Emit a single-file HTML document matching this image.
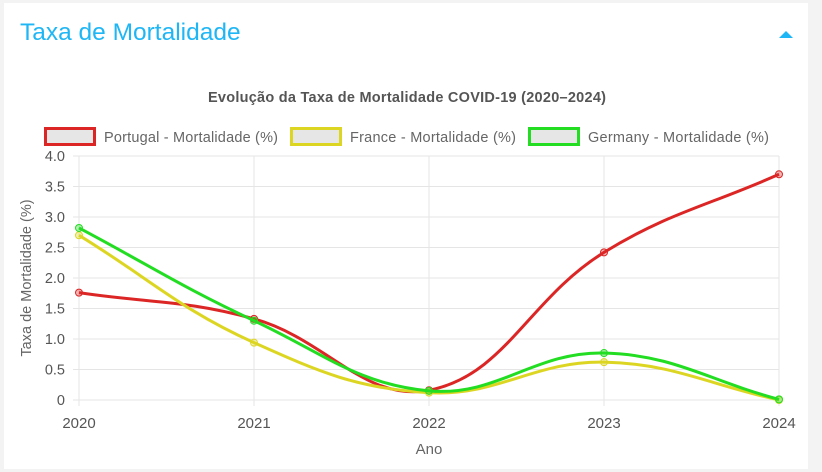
<!DOCTYPE html>
<html><head><meta charset="utf-8"><style>
body{margin:0;width:822px;height:472px;background:#f3f3f3;font-family:"Liberation Sans",sans-serif;overflow:hidden;position:relative}
.card{position:absolute;left:4px;top:3px;width:804px;height:466px;background:#fff}
.h{position:absolute;left:20px;top:19px;font-size:24.5px;color:#1fb6f5}
.tri{position:absolute;left:779px;top:31px;width:0;height:0;border-left:7px solid transparent;border-right:7px solid transparent;border-bottom:7px solid #1fb6f5}
svg{position:absolute;left:0;top:0}
</style></head><body>
<div class="card"></div>
<div class="h">Taxa de Mortalidade</div>
<div class="tri"></div>
<svg id="c" width="822" height="472" font-family="Liberation Sans, sans-serif"></svg>
<script>
const years=["2020","2021","2022","2023","2024"];
const portugal=[1.76,1.33,0.16,2.42,3.70];
const france=[2.70,0.94,0.12,0.62,0.00];
const germany=[2.82,1.30,0.15,0.77,0.01];
const yTicks=[0,0.5,1.0,1.5,2.0,2.5,3.0,3.5,4.0];
const series=[{name:"Portugal - Mortalidade (%)",data:portugal,color:"#dc2626",lx:44,tl:174},{name:"France - Mortalidade (%)",data:france,color:"#dcd623",lx:290,tl:166},{name:"Germany - Mortalidade (%)",data:germany,color:"#22dd22",lx:528,tl:181}];
const svg=document.getElementById('c');const NS="http://www.w3.org/2000/svg";
const L=79,R=779,T=156,B=400;
const x=i=>L+(R-L)*i/(years.length-1);
const y=v=>B-(B-T)*v/4;
function el(t,a,p){const e=document.createElementNS(NS,t);for(const k in a)e.setAttribute(k,a[k]);(p||svg).appendChild(e);return e;}
const title=el('text',{x:407,y:102,'text-anchor':'middle','font-size':14.5,'font-weight':'bold',fill:'#555',textLength:398});title.textContent="Evolução da Taxa de Mortalidade COVID-19 (2020–2024)";


yTicks.forEach(v=>{const g=el('line',{x1:L-6,x2:R,y1:y(v),y2:y(v),stroke:'#e5e5e5'});


const t=el('text',{x:L-14,y:y(v)+5,'text-anchor':'end','font-size':14.5,fill:'#555'});t.textContent=v===0?"0":v.toFixed(1);

});
years.forEach((yr,i)=>{const g=el('line',{x1:x(i),x2:x(i),y1:T,y2:B+6,stroke:'#e5e5e5'});


const t=el('text',{x:x(i),y:B+28,'text-anchor':'middle','font-size':15,fill:'#555'});t.textContent=yr;

});
const xt=el('text',{x:429,y:454,'text-anchor':'middle','font-size':15,fill:'#666'});xt.textContent="Ano";


const yt=el('text',{x:0,y:0,'text-anchor':'middle','font-size':14.5,fill:'#666',transform:'translate(31,278) rotate(-90)'});yt.textContent="Taxa de Mortalidade (%)";


function path(pts){const t=0.4;let d=`M${pts[0][0]},${pts[0][1]}`;
const cps=pts.map((p,i)=>{const pr=pts[i-1]||p,nx=pts[i+1]||p;
const d01=Math.hypot(p[0]-pr[0],p[1]-pr[1]),d12=Math.hypot(nx[0]-p[0],nx[1]-p[1]);
let fa=d01/(d01+d12)||0,fb=d12/(d01+d12)||0;fa*=t;fb*=t;
return {p:[p[0]-fa*(nx[0]-pr[0]),p[1]-fa*(nx[1]-pr[1])],n:[p[0]+fb*(nx[0]-pr[0]),p[1]+fb*(nx[1]-pr[1])]};});
for(let i=1;i<pts.length;i++){const a=cps[i-1].n,b=cps[i].p;d+=` C${a[0]},${a[1]} ${b[0]},${b[1]} ${pts[i][0]},${pts[i][1]}`;}return d;}
series.forEach(s=>{const pts=s.data.map((v,i)=>[x(i),y(v)]);
const p=el('path',{d:path(pts),fill:'none',stroke:s.color,'stroke-width':3});


pts.forEach(q=>{const c=el('circle',{cx:q[0],cy:q[1],r:3.5,fill:s.color,'fill-opacity':0.35,stroke:s.color,'stroke-width':1});

});
const r=el('rect',{x:s.lx+1.5,y:128.5,width:49,height:16,fill:'#e6e6e6',stroke:s.color,'stroke-width':3});


const t=el('text',{x:s.lx+60,y:142,'font-size':14.5,fill:'#666',textLength:s.tl});t.textContent=s.name;

});
</script>
</body></html>
